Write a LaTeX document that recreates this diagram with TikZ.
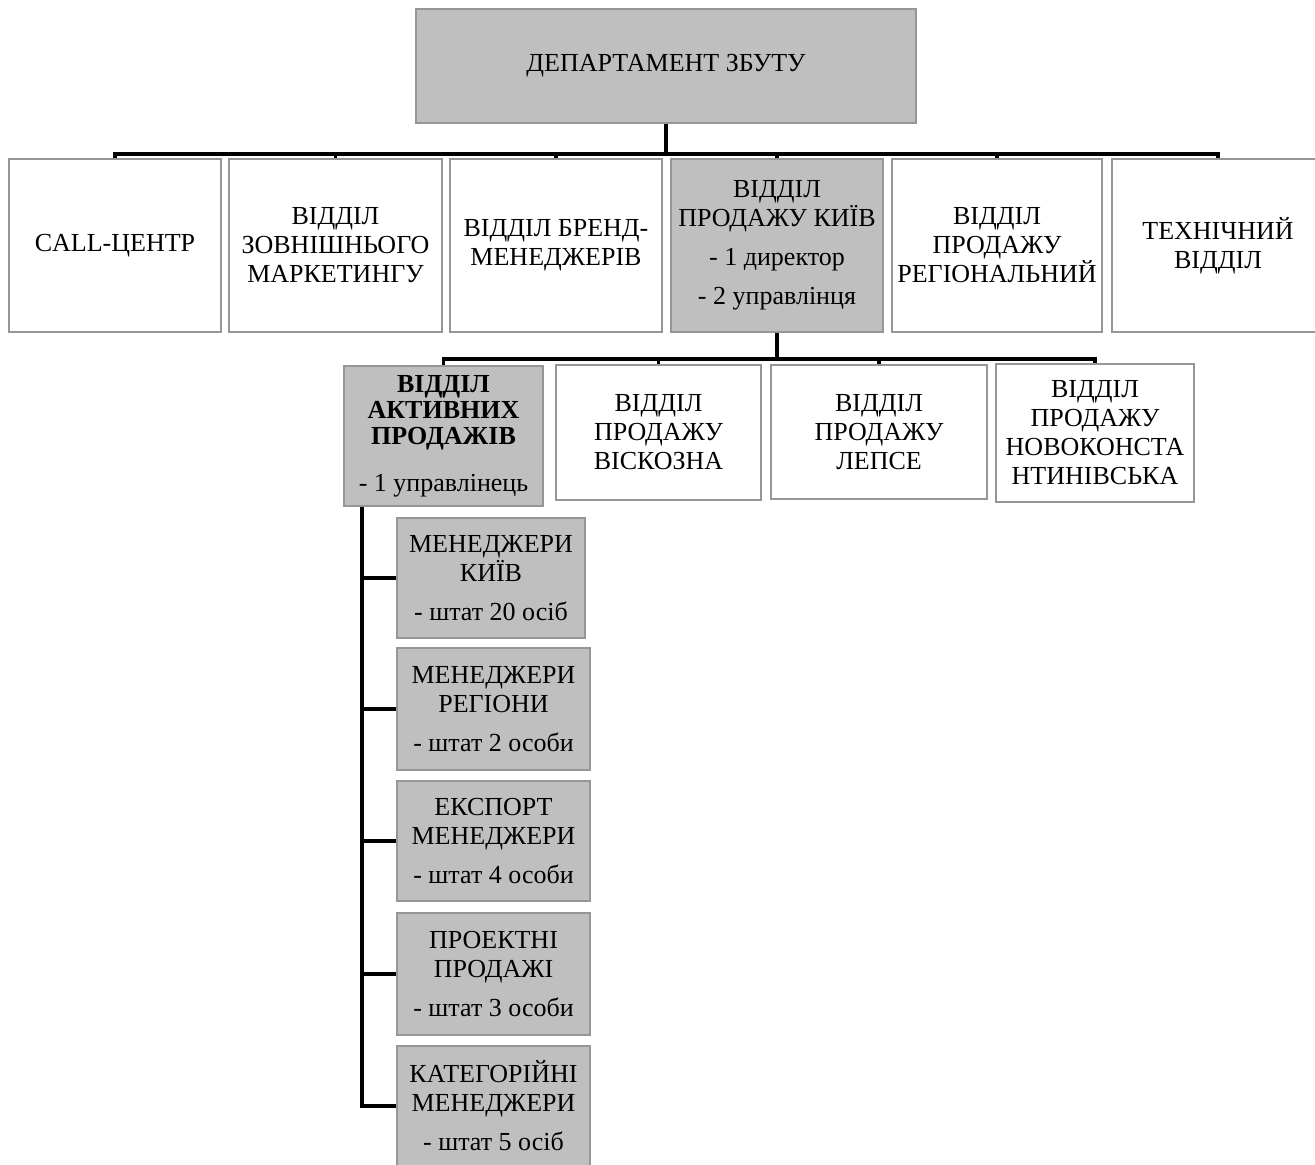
\documentclass[tikz,border=0pt]{standalone}
\usepackage{fontspec}
\setmainfont{Liberation Serif}
\usetikzlibrary{
    calc,
    positioning
}

\definecolor{boxgray}{RGB}{191,191,191}
\definecolor{edgegray}{RGB}{150,150,150}

\tikzset{
    unit/.style={draw=edgegray, line width=1pt, fill=white, inner sep=0pt,
        align=center, font=\fontsize{13}{14.5}\selectfont},
    shaded/.style={unit, fill=boxgray},
    link/.style={line width=1.6pt, black}
}

\begin{document}
\begin{tikzpicture}[x=0.5pt, y=-0.5pt]
    \useasboundingbox (0, 0) rectangle (1315, 1164);

    % top
    \node[shaded, minimum width=250pt, minimum height=57pt] (dep) at (666, 66) {ДЕПАРТАМЕНТ ЗБУТУ};

    % first row
    \node[unit, minimum width=106pt, minimum height=86.5pt] (call) at (115, 245.5) {CALL-ЦЕНТР};
    \node[unit, minimum width=106.5pt, minimum height=86.5pt] (ext) at (335.5, 245.5) {ВІДДІЛ\\ЗОВНІШНЬОГО\\МАРКЕТИНГУ};
    \node[unit, minimum width=106pt, minimum height=86.5pt] (brand) at (556, 245.5) {ВІДДІЛ БРЕНД-\\МЕНЕДЖЕРІВ};
    \node[shaded, minimum width=106pt, minimum height=86.5pt] (kyiv) at (777, 245.5) {ВІДДІЛ\\ПРОДАЖУ КИЇВ\\[5pt]- 1 директор\\[5pt]- 2 управлінця};
    \node[unit, minimum width=105pt, minimum height=86.5pt] (reg) at (997, 245.5) {ВІДДІЛ\\ПРОДАЖУ\\РЕГІОНАЛЬНИЙ};
    \node[unit, minimum width=106pt, minimum height=86.5pt] (tech) at (1218, 245.5) {ТЕХНІЧНИЙ\\ВІДДІЛ};

    % second row
    \node[shaded, minimum width=99.5pt, minimum height=70pt] (active) at (443.5, 436) {\textbf{ВІДДІЛ}\\[-1.5pt]\textbf{АКТИВНИХ}\\[-1.5pt]\textbf{ПРОДАЖІВ}\\[9pt]- 1 управлінець};
    \node[unit, minimum width=102.5pt, minimum height=67.5pt] (visc) at (658.5, 432.5) {ВІДДІЛ\\ПРОДАЖУ\\ВІСКОЗНА};
    \node[unit, minimum width=108pt, minimum height=67pt] (lepse) at (879, 432) {ВІДДІЛ\\ПРОДАЖУ\\ЛЕПСЕ};
    \node[unit, minimum width=99pt, minimum height=69pt] (novo) at (1095, 433) {ВІДДІЛ\\ПРОДАЖУ\\НОВОКОНСТА\\НТИНІВСЬКА};

    % managers
    \node[shaded, minimum width=94pt, minimum height=60pt] (m1) at (491, 578) {МЕНЕДЖЕРИ\\КИЇВ\\[5pt]- штат 20 осіб};
    \node[shaded, minimum width=96.5pt, minimum height=61pt] (m2) at (493.5, 709) {МЕНЕДЖЕРИ\\РЕГІОНИ\\[5pt]- штат 2 особи};
    \node[shaded, minimum width=96.5pt, minimum height=60pt] (m3) at (493.5, 841) {ЕКСПОРТ\\МЕНЕДЖЕРИ\\[5pt]- штат 4 особи};
    \node[shaded, minimum width=96.5pt, minimum height=61pt] (m4) at (493.5, 974) {ПРОЕКТНІ\\ПРОДАЖІ\\[5pt]- штат 3 особи};
    \node[shaded, minimum width=96.5pt, minimum height=60.5pt] (m5) at (493.5, 1106) {КАТЕГОРІЙНІ\\МЕНЕДЖЕРИ\\[5pt]- штат 5 осіб};

    \coordinate (bus1) at (666, 154);
    \coordinate (bus2) at (776, 359);
    \coordinate (trunk) at ($(active.south west)+(19, 0)$);

    \draw[link] (dep.south) -- (bus1);
    \draw[link] (call.north) -- (call.north |- bus1) -- (tech.north |- bus1) -- (tech.north);
    \foreach \n in {ext, brand, kyiv, reg}
        \draw[link] (\n.north) -- (\n.north |- bus1);

    \draw[link] (kyiv.south) -- (kyiv.south |- bus2);
    \draw[link] (active.north) -- (active.north |- bus2) -- (novo.north |- bus2) -- (novo.north);
    \foreach \n in {visc, lepse}
        \draw[link] (\n.north) -- (\n.north |- bus2);

    \draw[link] (trunk) |- (m5.west);
    \foreach \n in {m1, m2, m3, m4}
        \draw[link] (trunk |- \n.west) -- (\n.west);
\end{tikzpicture}
\end{document}
